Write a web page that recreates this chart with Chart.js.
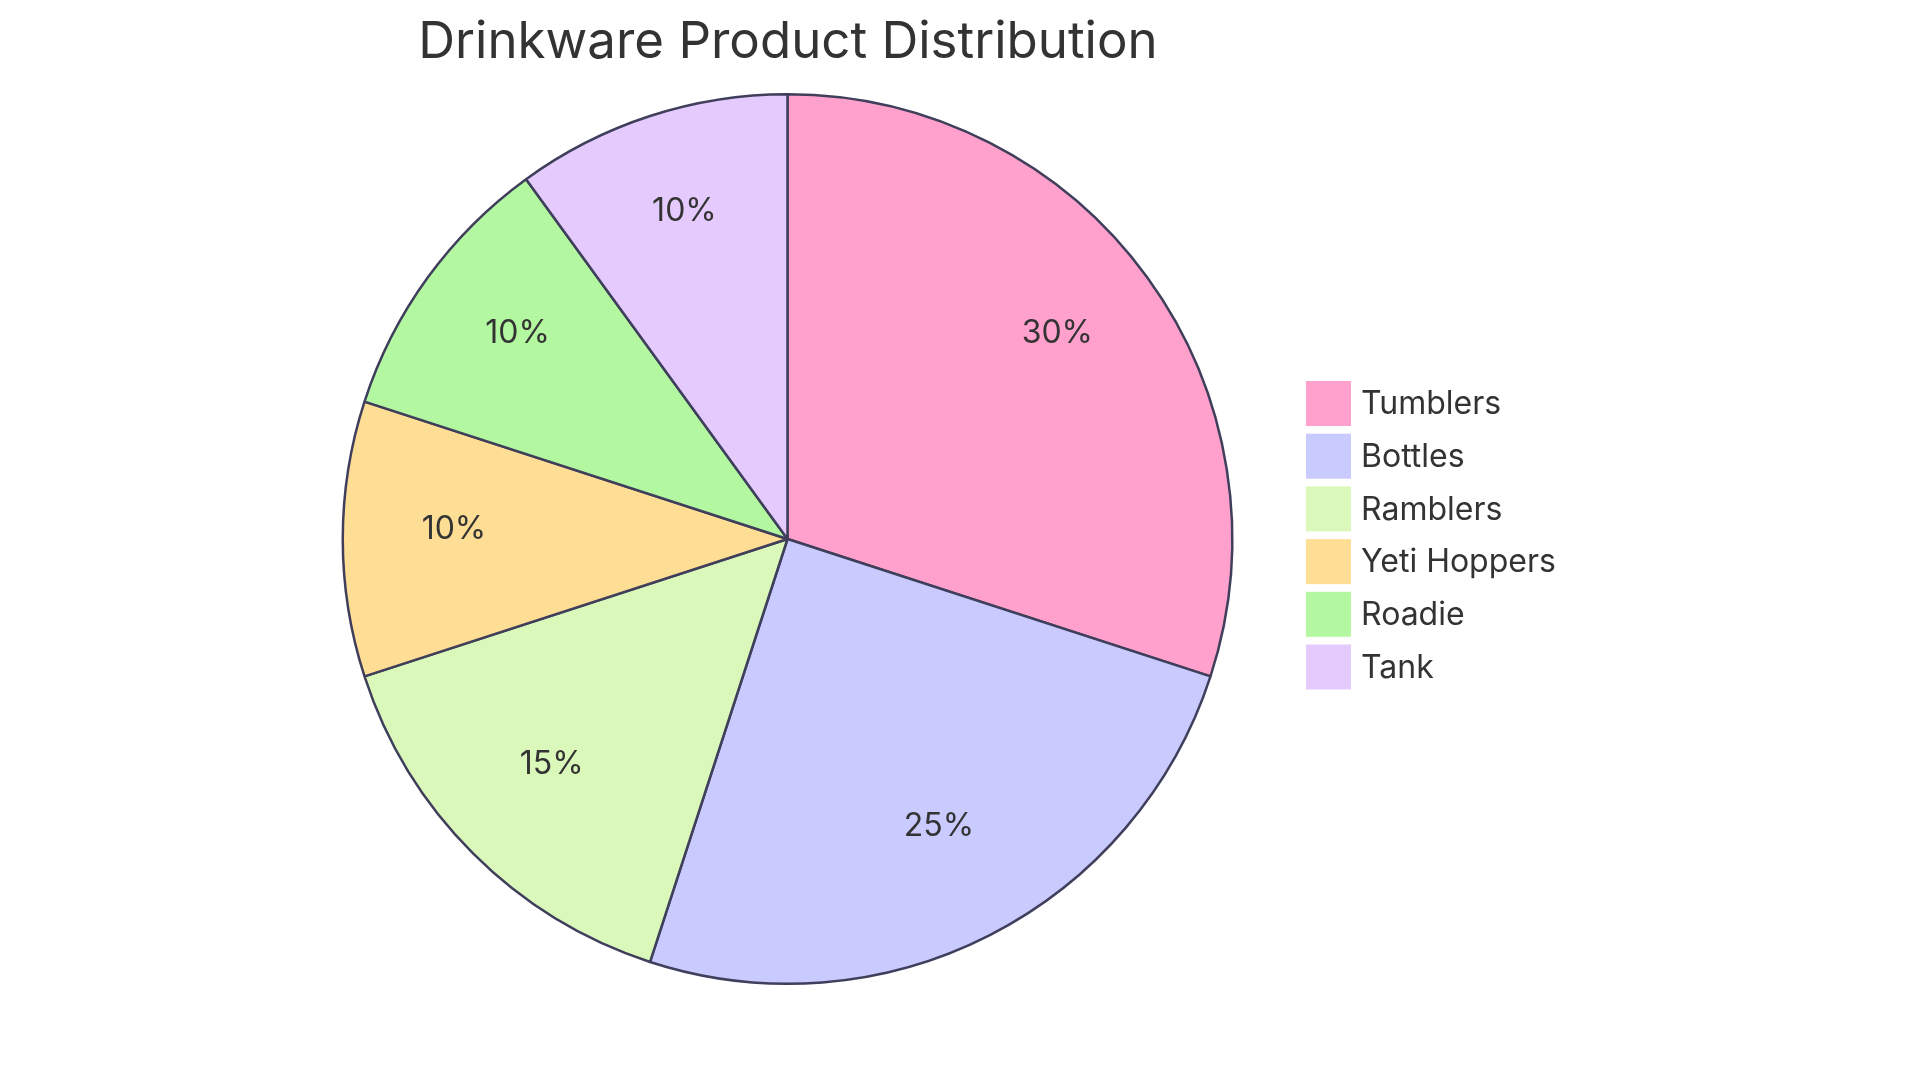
<!DOCTYPE html>
<html>
<head>
<meta charset="utf-8">
<title>Drinkware Product Distribution</title>
<script src="https://cdn.jsdelivr.net/npm/chart.js@4.4.0/dist/chart.umd.min.js"></script>
<style>
    html, body { margin: 0; padding: 0; background: #ffffff; }
    #wrap { width: 1920px; height: 1080px; position: relative; }
</style>
</head>
<body>
<div id="wrap"><canvas id="pieChart" width="1920" height="1080"></canvas></div>
<script>
// Chart data
const chartTitle = 'Drinkware Product Distribution';
const categories = ['Tumblers', 'Bottles', 'Ramblers', 'Yeti Hoppers', 'Roadie', 'Tank'];
const shares = [30, 25, 15, 10, 10, 10];
const sliceColors = ['#FFA1CC', '#C9CAFE', '#DAF8BA', '#FEDD94', '#B3F8A1', '#E5CBFD'];

const FONT = 'Inter, "Noto Sans", sans-serif';
const TEXT_COLOR = '#333333';

// Percent labels at 75% of the radius
const sliceLabels = {
    id: 'sliceLabels',
    afterDatasetsDraw(chart) {
        const ctx = chart.ctx;
        const meta = chart.getDatasetMeta(0);
        const total = shares.reduce((a, b) => a + b, 0);
        ctx.save();
        ctx.font = '32px ' + FONT;
        ctx.fillStyle = TEXT_COLOR;
        ctx.textAlign = 'center';
        ctx.textBaseline = 'middle';
        meta.data.forEach((arc, i) => {
            const mid = (arc.startAngle + arc.endAngle) / 2;
            const r = arc.outerRadius * 0.75;
            const x = arc.x + Math.cos(mid) * r;
            const y = arc.y + Math.sin(mid) * r - 10;
            ctx.fillText(Math.round(shares[i] / total * 100) + '%', x, y);
        });
        ctx.restore();
    }
};

// Title and legend
const sideText = {
    id: 'sideText',
    afterDraw(chart) {
        const ctx = chart.ctx;
        ctx.save();
        ctx.fillStyle = TEXT_COLOR;
        ctx.font = '51px ' + FONT;
        ctx.textAlign = 'center';
        ctx.textBaseline = 'middle';
        ctx.fillText(chartTitle, 788, 43);

        const boxX = 1306, boxSize = 45, top = 381, step = 52.7;
        ctx.font = '32px ' + FONT;
        ctx.textAlign = 'left';
        categories.forEach((name, i) => {
            const y = top + i * step;
            ctx.fillStyle = sliceColors[i];
            ctx.fillRect(boxX, y, boxSize, boxSize);
            ctx.fillStyle = TEXT_COLOR;
            ctx.fillText(name, 1361, y + boxSize / 2 + 1);
        });
        ctx.restore();
    }
};

document.addEventListener('DOMContentLoaded', function() {
    const ctx = document.getElementById('pieChart').getContext('2d');
    new Chart(ctx, {
        type: 'pie',
        data: {
            labels: categories,
            datasets: [{
                data: shares,
                backgroundColor: sliceColors,
                borderColor: '#3F3F5C',
                borderWidth: 2.5
            }]
        },
        options: {
            responsive: false,
            animation: false,
            layout: {
                padding: { left: 341, right: 686, top: 93, bottom: 95 }
            },
            plugins: {
                legend: { display: false },
                title: { display: false },
                tooltip: { enabled: false }
            }
        },
        plugins: [sliceLabels, sideText]
    });
});
</script>
</body>
</html>
